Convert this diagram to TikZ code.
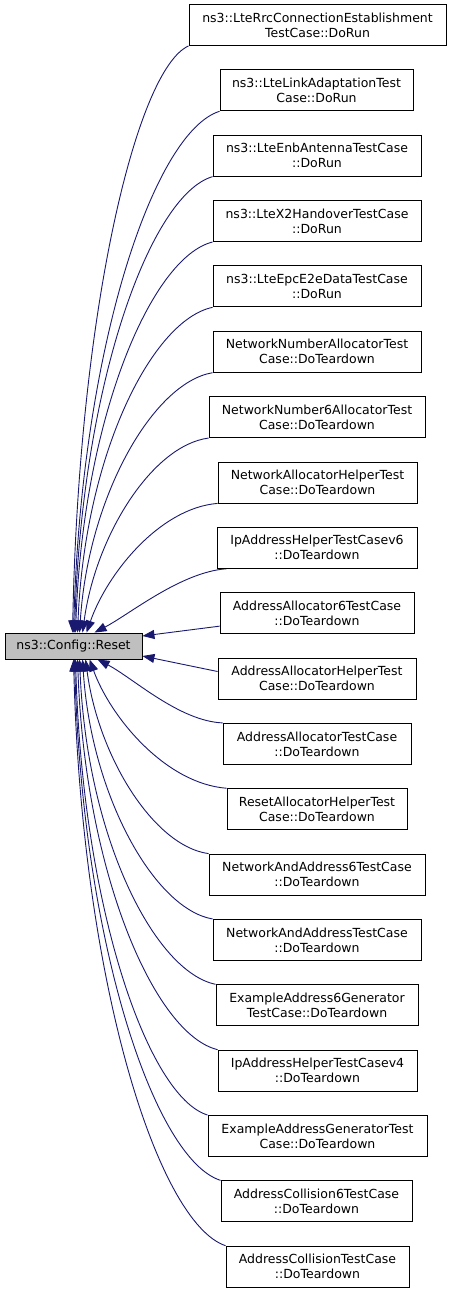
\documentclass[tikz,border=0pt]{standalone}
\usepackage{fontspec}
\setmainfont{DejaVu Sans}
\usetikzlibrary{arrows.meta}
\pgfdeclarelayer{background}
\pgfdeclarelayer{foreground}
\pgfsetlayers{background,main,foreground}
\definecolor{edgeblue}{RGB}{25,25,112}
\definecolor{resetgray}{RGB}{191,191,191}

\begin{document}
\begin{tikzpicture}[
				x=1pt, y=-1pt,
				testnode/.style={rectangle, draw=black, line width=0.9pt, fill=white, align=center, inner sep=0pt, minimum height=41pt, font=\fontsize{12.5}{15}\selectfont},
				resetnode/.style={rectangle, draw=black, line width=0.9pt, fill=resetgray, inner sep=0pt, minimum height=26pt, minimum width=137pt, font=\fontsize{12.5}{15}\selectfont},
				calledge/.style={draw=edgeblue, line width=0.9pt, -{Triangle[length=12pt,width=9pt]}},
				]
				\useasboundingbox (0,0) rectangle (451,1292);
				%Nodes
				\node[resetnode]                     (reset) at (73.5,646)     {ns3::Config::Reset};
				\node[testnode, minimum width=257pt] (b1)    at (317.5,25)     {ns3::LteRrcConnectionEstablishment\\TestCase::DoRun};
				\node[testnode, minimum width=193pt] (b2)    at (316.5,90.35)  {ns3::LteLinkAdaptationTest\\Case::DoRun};
				\node[testnode, minimum width=208pt] (b3)    at (317,155.7)    {ns3::LteEnbAntennaTestCase\\::DoRun};
				\node[testnode, minimum width=208pt] (b4)    at (317,221.05)   {ns3::LteX2HandoverTestCase\\::DoRun};
				\node[testnode, minimum width=208pt] (b5)    at (317,286.4)    {ns3::LteEpcE2eDataTestCase\\::DoRun};
				\node[testnode, minimum width=208pt] (b6)    at (317,351.75)   {NetworkNumberAllocatorTest\\Case::DoTeardown};
				\node[testnode, minimum width=216pt] (b7)    at (317,417.1)    {NetworkNumber6AllocatorTest\\Case::DoTeardown};
				\node[testnode, minimum width=199pt] (b8)    at (317.5,482.45) {NetworkAllocatorHelperTest\\Case::DoTeardown};
				\node[testnode, minimum width=200pt] (b9)    at (317,547.8)    {IpAddressHelperTestCasev6\\::DoTeardown};
				\node[testnode, minimum width=194pt] (b10)   at (317,613.15)   {AddressAllocator6TestCase\\::DoTeardown};
				\node[testnode, minimum width=198pt] (b11)   at (317,678.5)    {AddressAllocatorHelperTest\\Case::DoTeardown};
				\node[testnode, minimum width=188pt] (b12)   at (317,743.85)   {AddressAllocatorTestCase\\::DoTeardown};
				\node[testnode, minimum width=180pt] (b13)   at (317,809.2)    {ResetAllocatorHelperTest\\Case::DoTeardown};
				\node[testnode, minimum width=216pt] (b14)   at (317,874.55)   {NetworkAndAddress6TestCase\\::DoTeardown};
				\node[testnode, minimum width=208pt] (b15)   at (317,939.9)    {NetworkAndAddressTestCase\\::DoTeardown};
				\node[testnode, minimum width=202pt] (b16)   at (317,1005.25)  {ExampleAddress6Generator\\TestCase::DoTeardown};
				\node[testnode, minimum width=199pt] (b17)   at (317.5,1070.6) {IpAddressHelperTestCasev4\\::DoTeardown};
				\node[testnode, minimum width=219pt] (b18)   at (317.5,1135.95){ExampleAddressGeneratorTest\\Case::DoTeardown};
				\node[testnode, minimum width=191pt] (b19)   at (316.5,1201.3) {AddressCollision6TestCase\\::DoTeardown};
				\node[testnode, minimum width=183pt] (b20)   at (317.5,1266.65){AddressCollisionTestCase\\::DoTeardown};

				\begin{pgfonlayer}{background}
				%Lines above
				\draw[calledge] (b1.south west) .. controls (136.8,69) and (78.8,309.9) .. ([xshift=68pt]reset.north west);
				\draw[calledge] (b2.south west) .. controls (154.3,131.7) and (81.3,345.8) .. ([xshift=69pt]reset.north west);
				\draw[calledge] (b3.south west) .. controls (150.9,194.5) and (81.9,381.8) .. ([xshift=70pt]reset.north west);
				\draw[calledge] (b4.south west) .. controls (151.4,257.2) and (82.9,417.7) .. ([xshift=71pt]reset.north west);
				\draw[calledge] (b5.south west) .. controls (152.3,319.9) and (84.8,453.6) .. ([xshift=73pt]reset.north west);
				\draw[calledge] (b6.south west) .. controls (153.2,382.7) and (88.3,496.1) .. ([xshift=75pt]reset.north west);
				\draw[calledge] (b7.south west) .. controls (152.3,445.4) and (95.6,535.5) .. ([xshift=78pt]reset.north west);
				\draw[calledge] (b8.south west) .. controls (159.1,508.2) and (106.6,574.5) .. ([xshift=82pt]reset.north west);
				\draw[calledge] ([xshift=10pt]b9.south west) .. controls (181,572) and (130,614) .. ([xshift=90pt]reset.north west);

				%Lines beside
				\draw[calledge] ([yshift=-13pt]b10.west) -- ([yshift=10pt]reset.east);
				\draw[calledge] ([yshift=7pt]b11.west) -- ([yshift=-10pt]reset.east);

				%Lines below
				\draw[calledge] (b12.north west) .. controls (179,721) and (133,678) .. ([xshift=93pt]reset.south west);
				\draw[calledge] (b13.north west) .. controls (165.4,783.5) and (110.6,717.4) .. ([xshift=85pt]reset.south west);
				\draw[calledge] (b14.north west) .. controls (153.7,846.2) and (98.3,756.5) .. ([xshift=81pt]reset.south west);
				\draw[calledge] (b15.north west) .. controls (154.5,909) and (91.1,795.7) .. ([xshift=78pt]reset.south west);
				\draw[calledge] (b16.north west) .. controls (154.8,971.7) and (86.8,838.2) .. ([xshift=75pt]reset.south west);
				\draw[calledge] (b17.north west) .. controls (155,1034.5) and (85,874.1) .. ([xshift=73pt]reset.south west);
				\draw[calledge] (b18.north west) .. controls (148.6,1097.2) and (82.6,910) .. ([xshift=71pt]reset.south west);
				\draw[calledge] (b19.north west) .. controls (155.3,1159.9) and (82.3,946) .. ([xshift=70pt]reset.south west);
				\draw[calledge] (b20.north west) .. controls (157.6,1222.7) and (81.6,981.9) .. ([xshift=69pt]reset.south west);
				\end{pgfonlayer}
\end{tikzpicture}
\end{document}
